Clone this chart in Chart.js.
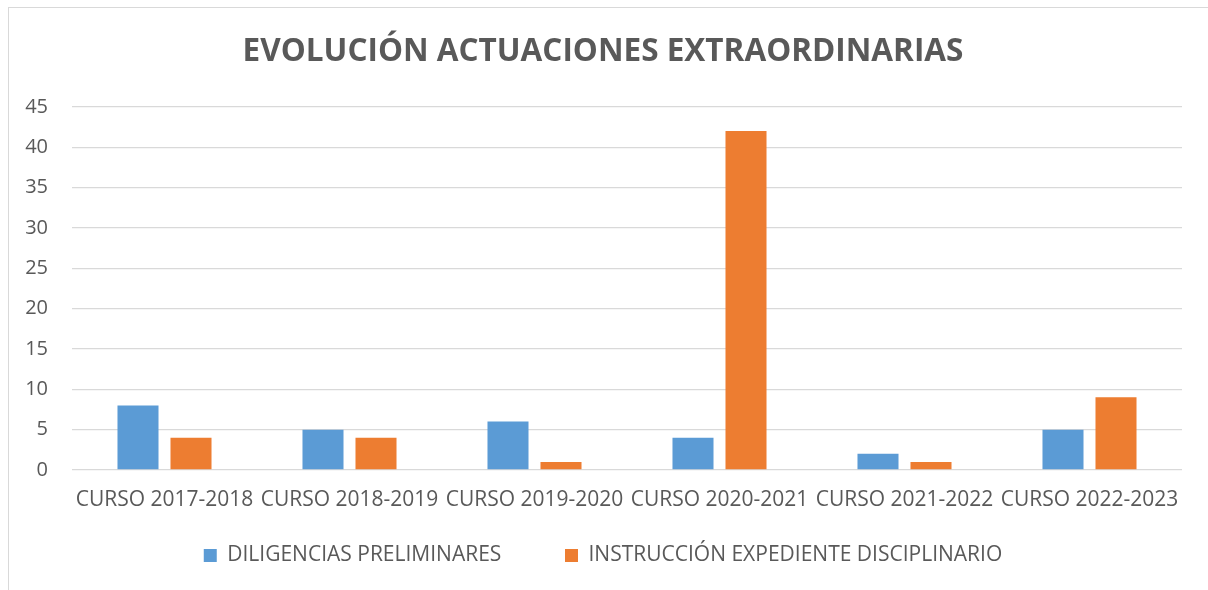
<!DOCTYPE html>
<html>
<head>
<meta charset="utf-8">
<script src="https://cdn.jsdelivr.net/npm/chart.js@4/dist/chart.umd.min.js"></script>
<style>
    html, body { margin: 0; padding: 0; background: #fff; overflow: hidden; }
    #wrap { position: relative; width: 1208px; height: 590px; }
    #frame { position: absolute; left: 8px; top: 7px; width: 1400px; height: 800px; border: 1px solid #d9d9d9; pointer-events: none; }
</style>
</head>
<body>
<div id="wrap">
    <canvas id="chart" width="1208" height="590"></canvas>
    <div id="frame"></div>
</div>
<script>
const categories = ['CURSO 2017-2018', 'CURSO 2018-2019', 'CURSO 2019-2020', 'CURSO 2020-2021', 'CURSO 2021-2022', 'CURSO 2022-2023'];
const seriesNames = ['DILIGENCIAS PRELIMINARES', 'INSTRUCCIÓN EXPEDIENTE DISCIPLINARIO'];
const diligencias = [8, 5, 6, 4, 2, 5];
const instruccion = [4, 4, 1, 42, 1, 9];
const yTicks = [0, 5, 10, 15, 20, 25, 30, 35, 40, 45];

const textColor = '#595959';
const gridColor = '#d9d9d9';

Chart.defaults.font.family = '"Open Sans", "Noto Sans", sans-serif';
Chart.defaults.color = textColor;

// wider gap between the two legend entries, without extra vertical padding
const legendGap = '\u00A0'.repeat(8);

new Chart(document.getElementById('chart'), {
    type: 'bar',
    data: {
        labels: categories,
        datasets: [
            { label: seriesNames[0], data: diligencias, backgroundColor: '#5b9bd5' },
            { label: seriesNames[1], data: instruccion, backgroundColor: '#ed7d31' }
        ]
    },
    options: {
        responsive: false,
        animation: false,
        layout: { padding: { left: 24, right: 26, top: 0, bottom: 14 } },
        datasets: {
            bar: { barPercentage: 0.774, categoryPercentage: 0.573 }
        },
        plugins: {
            title: {
                display: true,
                text: 'EVOLUCIÓN ACTUACIONES EXTRAORDINARIAS',
                color: textColor,
                font: { size: 31.5, weight: 'bold' },
                padding: { top: 33, bottom: 36 }
            },
            legend: {
                position: 'bottom',
                labels: {
                    boxWidth: 13,
                    boxHeight: 13,
                    padding: 20,
                    color: textColor,
                    font: { size: 21 },
                    generateLabels: chart => {
                        const items = Chart.defaults.plugins.legend.labels.generateLabels(chart);
                        items[0].text += legendGap;
                        return items;
                    }
                }
            },
            tooltip: { enabled: false }
        },
        scales: {
            x: {
                grid: { display: false, drawTicks: false },
                border: { display: false },
                ticks: { padding: 17, font: { size: 21 }, color: textColor, maxRotation: 0, autoSkip: false },
                afterFit: scale => { scale.height = 55; }
            },
            y: {
                min: 0,
                max: 45,
                afterBuildTicks: scale => { scale.ticks = yTicks.map(v => ({ value: v })); },
                grid: { color: gridColor, lineWidth: 1.3, drawTicks: false },
                border: { display: false },
                ticks: { padding: 24, font: { size: 20 }, color: textColor },
                afterFit: scale => { scale.width = 48; }
            }
        }
    }
});
</script>
</body>
</html>
